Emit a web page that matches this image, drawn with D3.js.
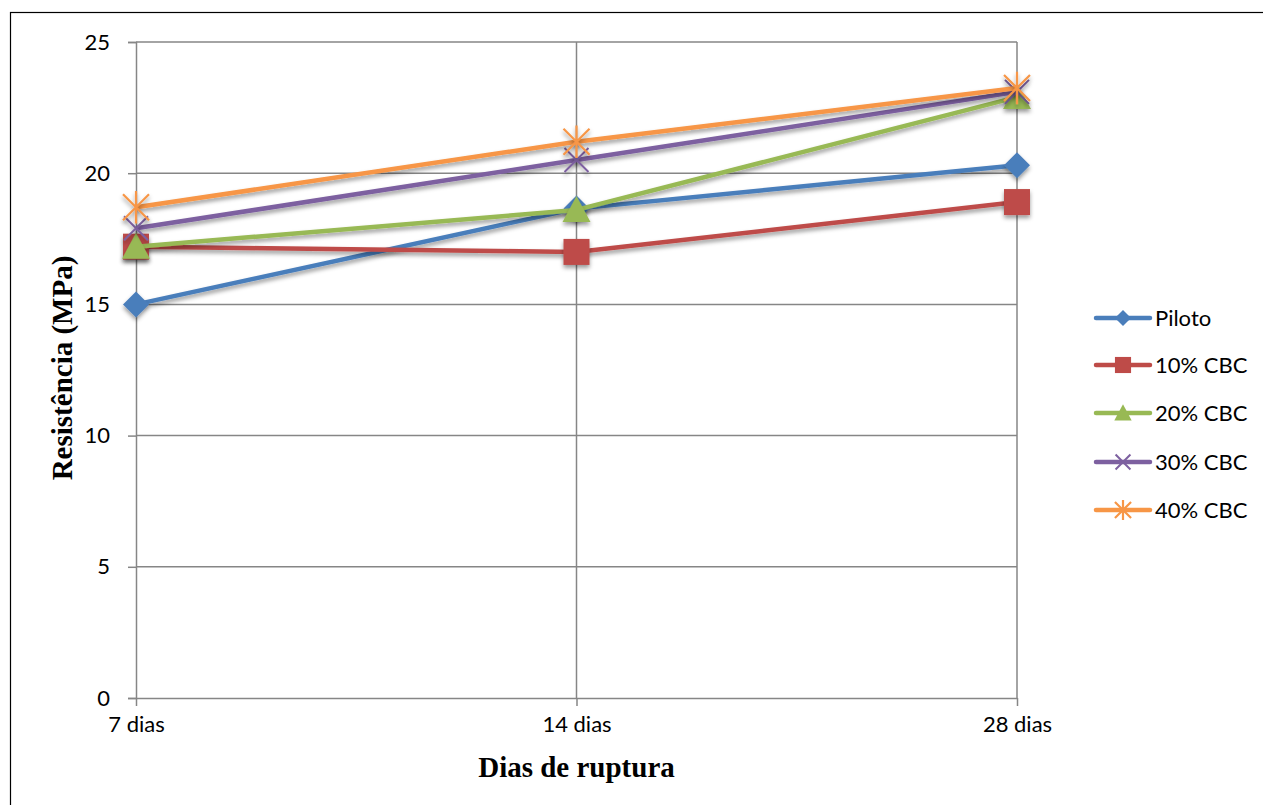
<!DOCTYPE html>
<html>
<head>
<meta charset="utf-8">
<script src="https://cdn.jsdelivr.net/npm/d3@7"></script>
<style>
  html, body { margin: 0; padding: 0; background: #fff; }
  svg { display: block; }
</style>
</head>
<body>
<svg id="chart" width="1263" height="805"></svg>
<script>
// Compressive strength by curing age
const categories = ["7 dias", "14 dias", "28 dias"];
const seriesNames = ["Piloto", "10% CBC", "20% CBC", "30% CBC", "40% CBC"];
const piloto = [15.0, 18.65, 20.3];
const cbc10 = [17.2, 17.0, 18.9];
const cbc20 = [17.2, 18.6, 22.9];
const cbc30 = [17.9, 20.5, 23.1];
const cbc40 = [18.7, 21.2, 23.25];
const yTicks = [0, 5, 10, 15, 20, 25];
const colors = ["#4a7ebb", "#be4b48", "#98b954", "#7d60a0", "#f79646"];
const markers = ["diamond", "square", "triangle", "x", "star"];

const series = [piloto, cbc10, cbc20, cbc30, cbc40].map((vals, i) => ({
  name: seriesNames[i], values: vals, color: colors[i], marker: markers[i]
}));

const svg = d3.select("#chart");
const plotLeft = 136, plotRight = 1017, plotTop = 42, plotBottom = 698;
const labelFont = "Lato, 'Open Sans', sans-serif";
const titleFont = "'Liberation Serif', 'Times New Roman', serif";

const defs = svg.append("defs");
const f = defs.append("filter").attr("id", "shadow")
  .attr("x", "-50%").attr("y", "-50%").attr("width", "200%").attr("height", "200%");
f.append("feDropShadow").attr("dx", 0).attr("dy", 3).attr("stdDeviation", 2)
  .attr("flood-color", "#000").attr("flood-opacity", 0.4);

// outer frame
svg.append("rect").attr("x", 10.5).attr("y", 12.5).attr("width", 1300).attr("height", 900)
  .attr("fill", "none").attr("stroke", "#000").attr("stroke-width", 1.2);

const x = d3.scalePoint().domain(categories).range([plotLeft, plotRight]).padding(0);
const y = d3.scaleLinear().domain([0, 25]).range([plotBottom, plotTop]);

const gridColor = "#868686";

// horizontal gridlines
svg.append("g").selectAll("line").data(yTicks.filter(t => t > 0)).join("line")
  .attr("x1", plotLeft).attr("x2", plotRight)
  .attr("y1", d => y(d)).attr("y2", d => y(d))
  .attr("stroke", gridColor).attr("stroke-width", 1.5);
// vertical gridlines
svg.append("g").selectAll("line").data(categories.slice(1)).join("line")
  .attr("x1", d => x(d)).attr("x2", d => x(d))
  .attr("y1", plotTop).attr("y2", plotBottom)
  .attr("stroke", gridColor).attr("stroke-width", 1.5);

// y axis
const yAxis = svg.append("g").attr("transform", `translate(${plotLeft},0)`)
  .call(d3.axisLeft(y).tickValues(yTicks).tickSize(8).tickPadding(18).tickFormat(d3.format("d")));
yAxis.select(".domain").attr("stroke", gridColor).attr("stroke-width", 1.5);
yAxis.selectAll(".tick line").attr("stroke", gridColor).attr("stroke-width", 1.5);
yAxis.selectAll("text").attr("font-family", labelFont)
  .attr("font-size", 22).attr("fill", "#000");

// x axis
const xAxis = svg.append("g").attr("transform", `translate(0,${plotBottom})`)
  .call(d3.axisBottom(x).tickSize(8).tickPadding(10).tickSizeOuter(0));
xAxis.select(".domain").attr("stroke", gridColor).attr("stroke-width", 1.5);
xAxis.selectAll(".tick line").attr("stroke", gridColor).attr("stroke-width", 1.5);
xAxis.selectAll("text").attr("font-family", labelFont)
  .attr("font-size", 22).attr("fill", "#000");

// axis titles
svg.append("text").attr("x", (plotLeft + plotRight) / 2).attr("y", 777)
  .attr("text-anchor", "middle").attr("font-family", titleFont)
  .attr("font-weight", "bold").attr("font-size", 29).text("Dias de ruptura");
svg.append("text").attr("transform", `translate(72,368) rotate(-90)`)
  .attr("text-anchor", "middle").attr("font-family", titleFont)
  .attr("font-weight", "bold").attr("font-size", 29).text("Resistência (MPa)");

// marker drawing
function drawMarker(g, type, color, scale = 1) {
  const s = scale;
  if (type === "diamond") {
    g.append("path").attr("d", `M0,${-13*s}L${13*s},0L0,${13*s}L${-13*s},0Z`).attr("fill", color);
  } else if (type === "square") {
    g.append("rect").attr("x", -13*s).attr("y", -13*s).attr("width", 26*s).attr("height", 26*s).attr("fill", color);
  } else if (type === "triangle") {
    g.append("path").attr("d", `M0,${-14*s}L${14*s},${12*s}L${-14*s},${12*s}Z`).attr("fill", color);
  } else if (type === "x") {
    const r = 12*s;
    g.append("path").attr("d", `M${-r},${-r}L${r},${r}M${-r},${r}L${r},${-r}`)
      .attr("stroke", color).attr("stroke-width", 2).attr("fill", "none");
  } else if (type === "star") {
    const r = 13*s;
    g.append("path").attr("d", `M${-r},${-r}L${r},${r}M${-r},${r}L${r},${-r}M0,${-r*1.25}L0,${r*1.25}`)
      .attr("stroke", color).attr("stroke-width", 2.2).attr("fill", "none");
  }
}

const line = d3.line().x((d, i) => x(categories[i])).y(d => y(d));

const plot = svg.append("g");
series.forEach(s => {
  const g = plot.append("g");
  g.append("path").datum(s.values).attr("d", line)
    .attr("fill", "none").attr("stroke", s.color).attr("stroke-width", 4.5).attr("stroke-linejoin", "round")
    .attr("filter", "url(#shadow)");
  s.values.forEach((v, i) => {
    const m = g.append("g").attr("transform", `translate(${x(categories[i])},${y(v)})`)
      .attr("filter", "url(#shadow)");
    drawMarker(m, s.marker, s.color);
  });
});

// legend
const legendY = [318, 365, 413, 462, 510];
const leg = svg.append("g");
series.forEach((s, i) => {
  const g = leg.append("g").attr("transform", `translate(1096,${legendY[i]})`);
  g.append("line").attr("x1", 0).attr("x2", 54).attr("y1", 0).attr("y2", 0)
    .attr("stroke", s.color).attr("stroke-width", 4.5).attr("stroke-linecap", "round");
  const m = g.append("g").attr("transform", "translate(27,0)");
  drawMarker(m, s.marker, s.color, 0.62);
  g.append("text").attr("x", 59).attr("y", 0).attr("dy", "0.36em")
    .attr("font-family", labelFont).attr("font-size", 22).text(s.name);
});
</script>
</body>
</html>
